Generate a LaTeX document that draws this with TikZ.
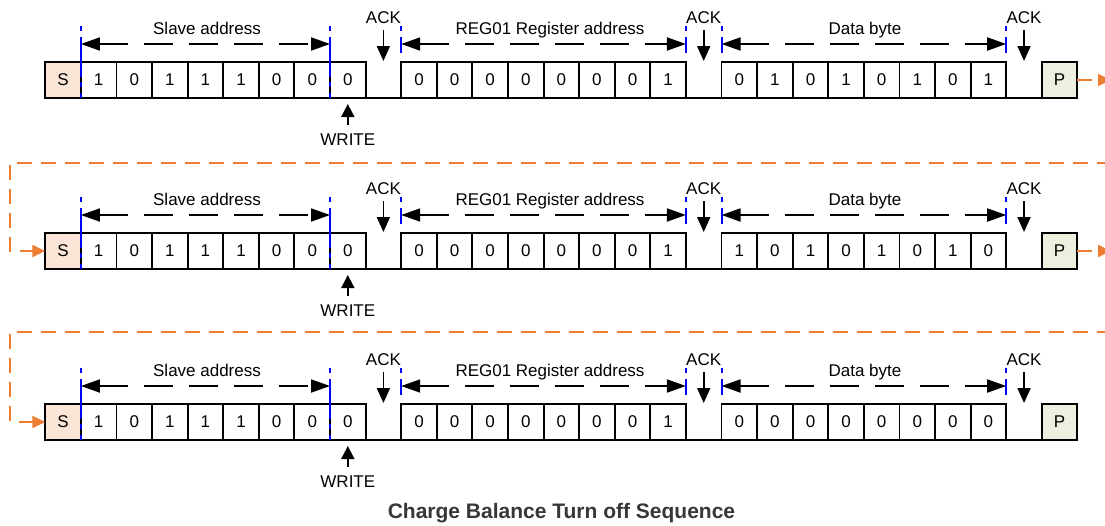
\documentclass[tikz,border=0pt]{standalone}
\usepackage{fontspec}
\setmainfont{Liberation Sans}
\usetikzlibrary{arrows.meta}
\definecolor{orng}{RGB}{237,125,49}
\definecolor{sfill}{RGB}{251,229,214}
\definecolor{pfill}{RGB}{235,241,222}
\definecolor{bblue}{RGB}{0,0,255}
\definecolor{ttl}{RGB}{55,55,55}
\begin{document}
\begin{tikzpicture}[x=1pt,y=-1pt,
  cell/.style={draw=black, line width=1.9pt, minimum width=35.59pt, minimum height=36pt, inner sep=0pt, outer sep=0pt, font=\fontsize{17}{17}\selectfont},
  lbl/.style={font=\fontsize{17}{17}\selectfont, inner sep=0pt, anchor=base},
  gapline/.style={line width=1.9pt},
  span/.style={line width=1.8pt, dash pattern=on 29pt off 16pt, {Triangle[length=19pt,width=13pt]}-{Triangle[length=19pt,width=13pt]}},
  ptr/.style={line width=1.8pt, -{Triangle[length=15pt,width=13pt]}},
  bluelong/.style={bblue, line width=2pt, dash pattern=on 5pt off 6pt on 40pt off 5pt},
  blueshort/.style={bblue, line width=2pt, dash pattern=on 5pt off 6pt on 40pt off 5pt},
  orline/.style={orng, line width=1.8pt, dash pattern=on 15pt off 9pt},
  ortip/.style={-{Triangle[length=13pt,width=12pt]}}
]
\useasboundingbox (0,0) rectangle (1105,525);

\foreach \r/\T/\d in {1/62/{0,1,0,1,0,1,0,1},2/233/{1,0,1,0,1,0,1,0},3/404/{0,0,0,0,0,0,0,0}}{
  % cells
  \node[cell, fill=sfill] (c\r-0) at ({45.3+0.5*35.59},{\T+18}) {S};
  \foreach \b [count=\k] in {1,0,1,1,1,0,0,0}
    \node[cell] (c\r-\k) at ({45.3+(\k+0.5)*35.59},{\T+18}) {\b};
  \foreach \b [count=\k from 10] in {0,0,0,0,0,0,0,1}
    \node[cell] (c\r-\k) at ({45.3+(\k+0.5)*35.59},{\T+18}) {\b};
  \foreach \b [count=\k from 19] in \d
    \node[cell] (c\r-\k) at ({45.3+(\k+0.5)*35.59},{\T+18}) {\b};
  \node[cell, fill=pfill] (c\r-28) at ({45.3+28.5*35.59},{\T+18}) {P};
  % ACK slots (bottom line only)
  \draw[gapline] (c\r-8.south east) -- (c\r-10.south west);
  \draw[gapline] (c\r-17.south east) -- (c\r-19.south west);
  \draw[gapline] (c\r-26.south east) -- (c\r-28.south west);
  % blue markers
  \draw[bluelong] ([yshift=36pt]c\r-1.north west) -- (c\r-1.south west);
  \draw[bluelong] ([yshift=36pt]c\r-8.north west) -- (c\r-8.south west);
  \foreach \a in {10.north west, 17.north east, 19.north west, 26.north east}
    \draw[blueshort] ([yshift=36pt]c\r-\a) -- ([yshift=9pt]c\r-\a);
  % spans
  \draw[span] ([yshift=18pt]c\r-1.north west) -- ([yshift=18pt]c\r-8.north west);
  \draw[span] ([yshift=18pt]c\r-10.north west) -- ([yshift=18pt]c\r-17.north east);
  \draw[span] ([yshift=18pt]c\r-19.north west) -- ([yshift=18pt]c\r-26.north east);
  \node[lbl] (sa\r) at (207,{\T-28}) {Slave address};
  \node[lbl] (ra\r) at (550,{\T-28}) {REG01 Register address};
  \node[lbl] (db\r) at (865,{\T-28}) {Data byte};
  % ACK pointers
  \foreach \g in {9,18,27}{
    \node[lbl] (ack\r-\g) at ({45.3+(\g+0.5)*35.59},{\T-39}) {ACK};
    \coordinate (ackt\r-\g) at ({45.3+(\g+0.5)*35.59},{\T-1});
    \draw[ptr, shorten <=7pt] (ack\r-\g) -- (ackt\r-\g);
  }
  % WRITE pointer
  \node[lbl] (wr\r) at ({45.3+8.5*35.59},{\T+83}) {WRITE};
  \draw[ptr, -{Triangle[length=13pt,width=13pt]}, shorten <=8pt, shorten >=6pt] (wr\r) -- (c\r-8.south);
}

% orange continuation connectors
\coordinate (pe1) at (1111,80);
\coordinate (pe2) at (1111,251);
\draw[orline, ortip] (c1-28.east) -- (pe1);
\draw[orline, ortip] (c2-28.east) -- (pe2);
\coordinate (rr1) at (1112,162.7);
\coordinate (rl1) at (10.3,162.7);
\draw[orline, ortip] (rr1) -- (rl1) |- (c2-0.west);
\coordinate (rr2) at (1112,332);
\coordinate (rl2) at (10.3,332);
\draw[orline, ortip] (rr2) -- (rl2) |- (c3-0.west);

\node[font=\bfseries\fontsize{21}{24}\selectfont, text=ttl, anchor=base, inner sep=0pt] (title) at (561.5,518) {Charge Balance Turn off Sequence};
\end{tikzpicture}
\end{document}
